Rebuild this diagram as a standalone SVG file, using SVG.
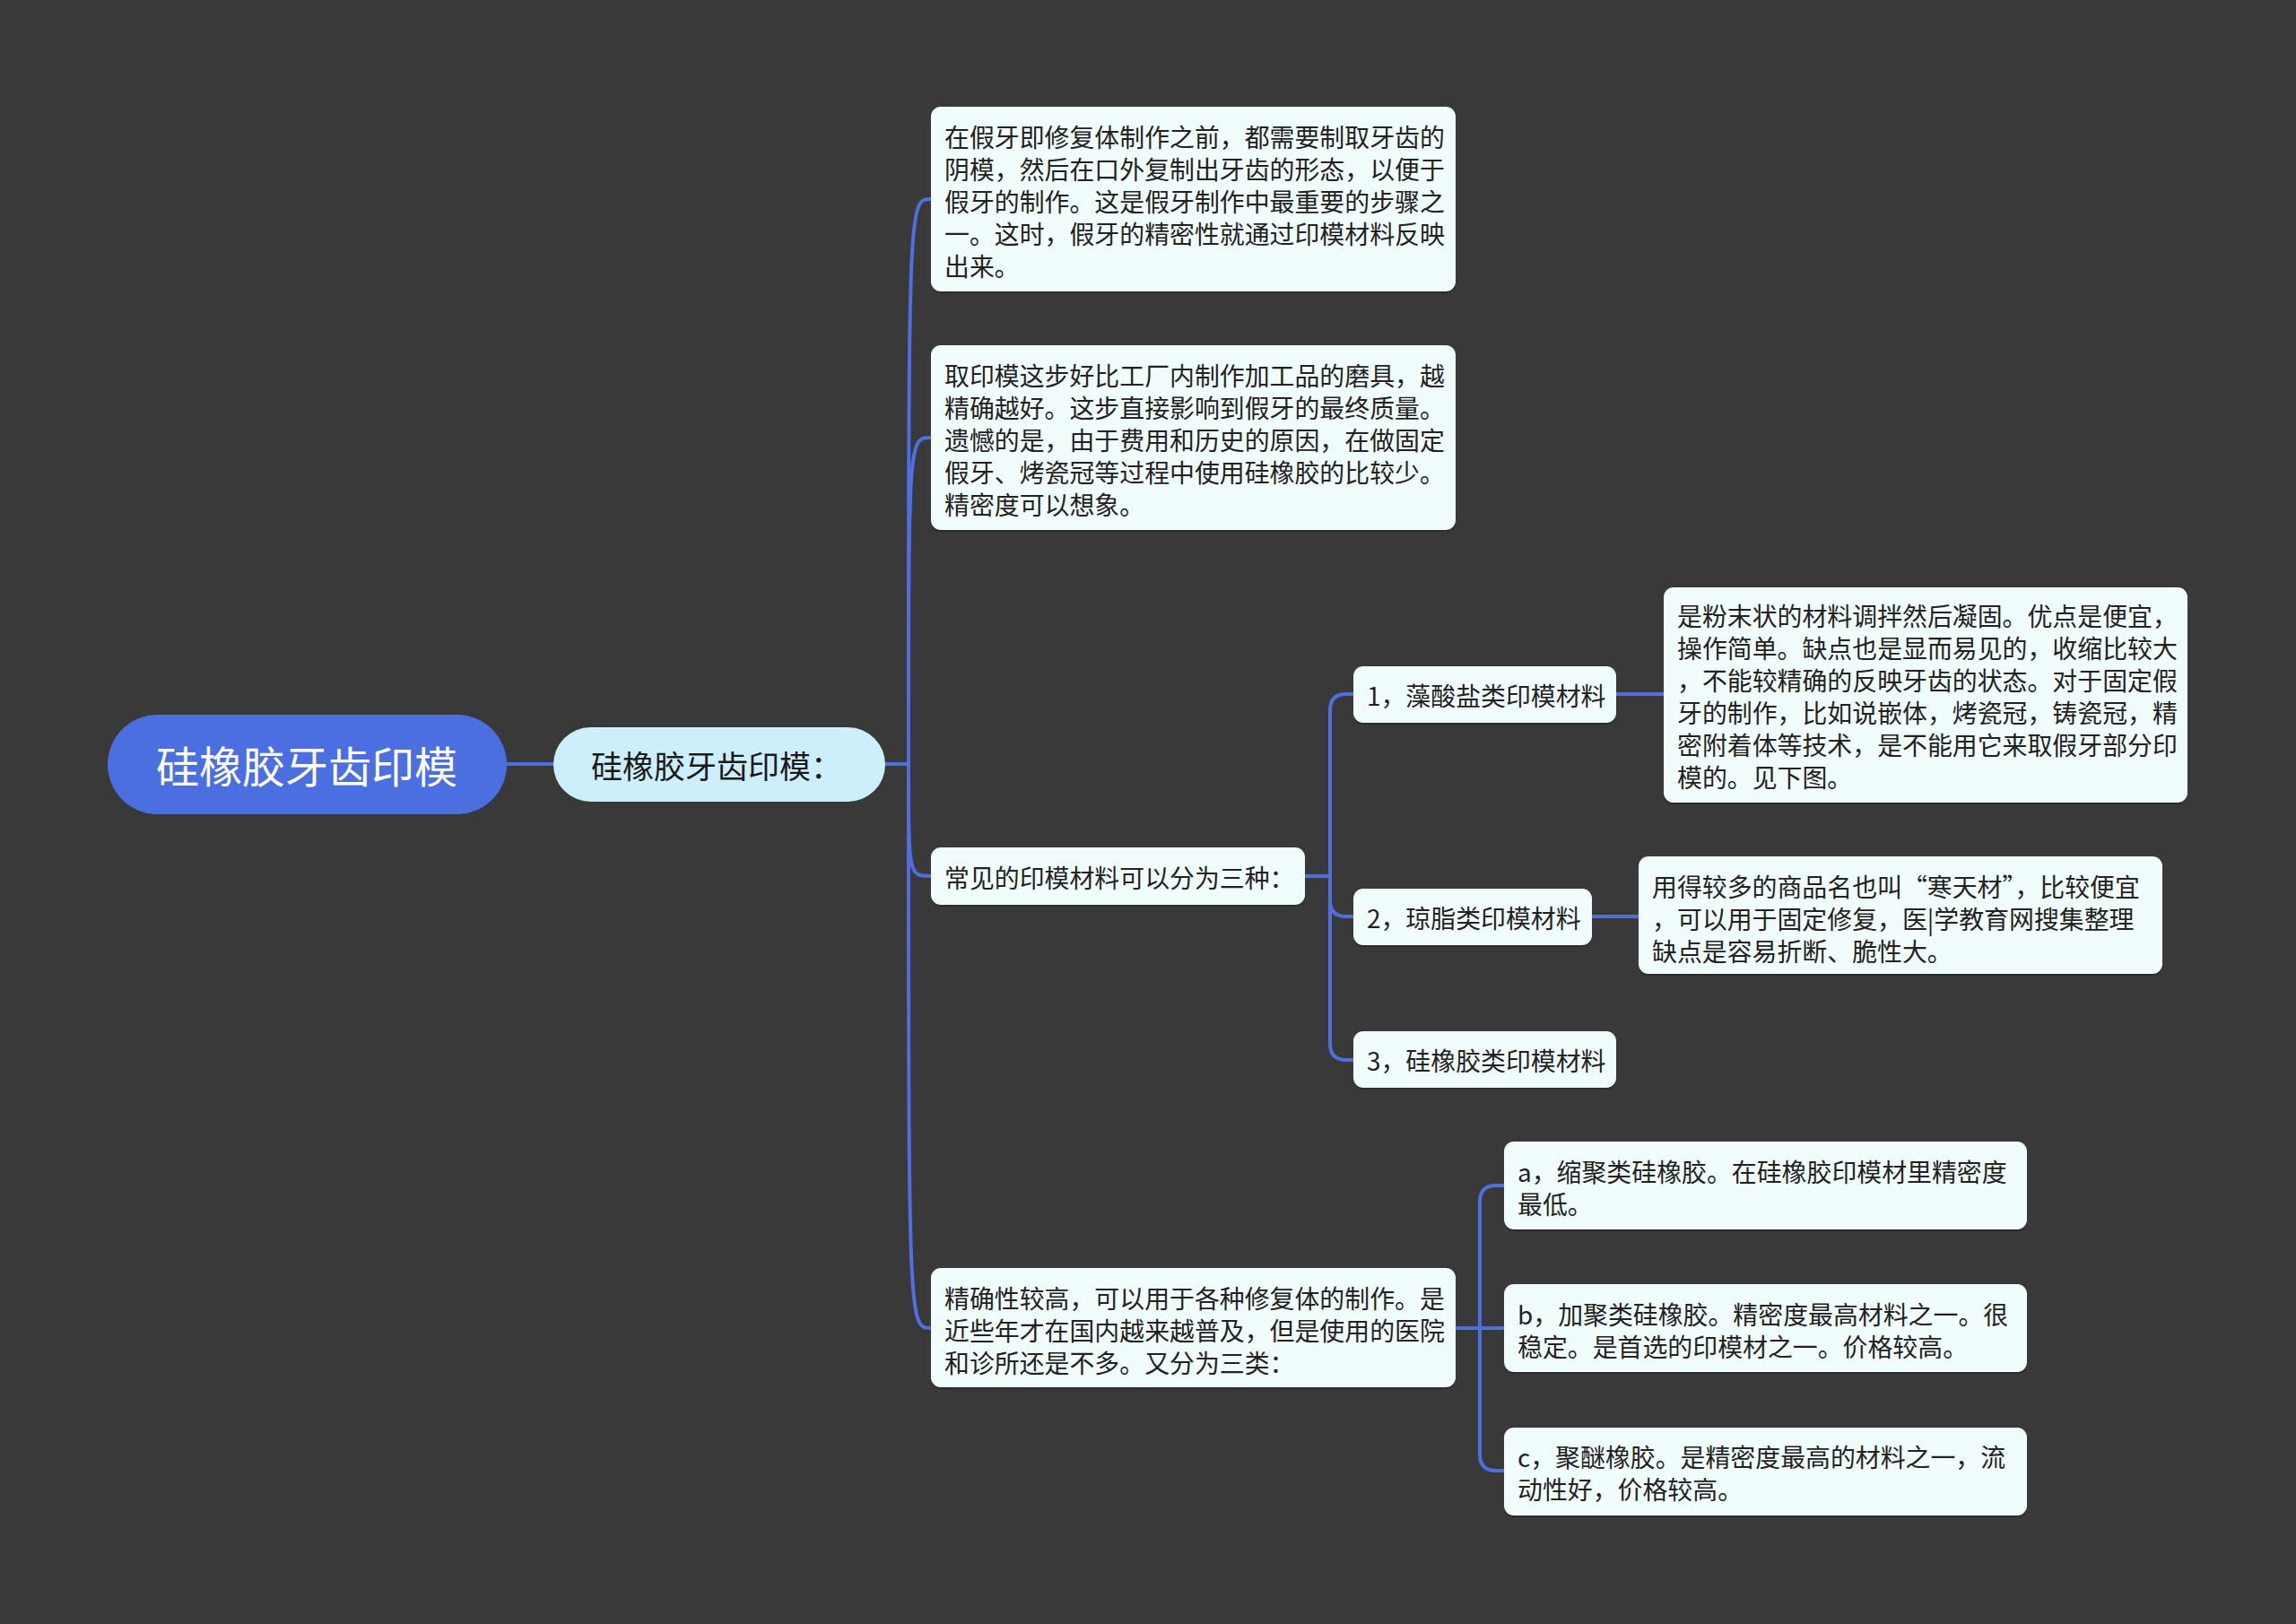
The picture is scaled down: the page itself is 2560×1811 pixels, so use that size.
<svg xmlns="http://www.w3.org/2000/svg" width="2560" height="1811" viewBox="0 0 2560 1811">
<defs>
<style>
.bg{fill:#3a393a}
.root{fill:#4b6ee0}
.sub{fill:#cdeefb}
.box{fill:#f1fcfc}
.sh{fill:#252525;opacity:0.6}
.t{font-family:"Noto Sans CJK SC","Microsoft YaHei",sans-serif;font-size:27.9px;fill:#222;dominant-baseline:central}
.rt{font-family:"Noto Sans CJK SC","Microsoft YaHei",sans-serif;font-size:48px;fill:#fff;dominant-baseline:central;text-anchor:middle}
.st{font-family:"Noto Sans CJK SC","Microsoft YaHei",sans-serif;font-size:35px;fill:#1a1a1a;dominant-baseline:central}
.c{fill:none;stroke:#4f6fe0;stroke-width:4;stroke-linecap:round}
</style>
</defs>
<rect class="bg" x="0" y="0" width="2560" height="1811"/>
<g id="connectors">
<path class="c" d="M565 852 H617" stroke-width="5"/>
<path class="c" d="M987 852 H1013"/>
<path class="c" d="M1013 852 C1013 222 1013 222 1038 222"/>
<path class="c" d="M1013 852 C1013 488 1013 488 1038 488"/>
<path class="c" d="M1013 852 C1013 977 1013 977 1038 977"/>
<path class="c" d="M1013 852 C1013 1481 1013 1481 1038 1481"/>
<path class="c" d="M1455 977 H1483"/>
<path class="c" d="M1483 977 V792 Q1483 774 1501 774 H1509"/>
<path class="c" d="M1483 977 V1004 Q1483 1022 1501 1022 H1509"/>
<path class="c" d="M1483 977 V1164 Q1483 1182 1501 1182 H1509"/>
<path class="c" d="M1802 774 H1855"/>
<path class="c" d="M1775 1022 H1827"/>
<path class="c" d="M1623 1481 H1677"/>
<path class="c" d="M1650 1481 V1340 Q1650 1322 1668 1322 H1677"/>
<path class="c" d="M1650 1481 V1622 Q1650 1640 1668 1640 H1677"/>
</g>
<g id="root">
<rect class="root" x="120" y="797" width="445" height="111" rx="55.5"/>
<text class="rt" x="342" y="852">硅橡胶牙齿印模</text>
</g>
<g id="sub1">
<rect class="sub" x="617" y="811" width="370" height="83" rx="41.5"/>
<text class="st" x="659" y="852">硅橡胶牙齿印模：</text>
</g>
<g id="n1">
<rect class="sh" x="1038" y="121" width="585" height="206" rx="11"/>
<rect class="box" x="1038" y="119" width="585" height="206" rx="11"/>
<text class="t" x="1053"><tspan x="1053" y="152">在假牙即修复体制作之前，都需要制取牙齿的</tspan><tspan x="1053" y="188">阴模，然后在口外复制出牙齿的形态，以便于</tspan><tspan x="1053" y="224">假牙的制作。这是假牙制作中最重要的步骤之</tspan><tspan x="1053" y="260">一。这时，假牙的精密性就通过印模材料反映</tspan><tspan x="1053" y="296">出来。</tspan></text>
</g>
<g id="n2">
<rect class="sh" x="1038" y="387" width="585" height="206" rx="11"/>
<rect class="box" x="1038" y="385" width="585" height="206" rx="11"/>
<text class="t"><tspan x="1053" y="418">取印模这步好比工厂内制作加工品的磨具，越</tspan><tspan x="1053" y="454">精确越好。这步直接影响到假牙的最终质量。</tspan><tspan x="1053" y="490">遗憾的是，由于费用和历史的原因，在做固定</tspan><tspan x="1053" y="526">假牙、烤瓷冠等过程中使用硅橡胶的比较少。</tspan><tspan x="1053" y="562">精密度可以想象。</tspan></text>
</g>
<g id="n3">
<rect class="sh" x="1038" y="947" width="417" height="64" rx="11"/>
<rect class="box" x="1038" y="945" width="417" height="64" rx="11"/>
<text class="t" x="1053" y="978">常见的印模材料可以分为三种：</text>
</g>
<g id="n3a">
<rect class="sh" x="1509" y="745" width="293" height="63" rx="11"/>
<rect class="box" x="1509" y="743" width="293" height="63" rx="11"/>
<text class="t" x="1524" y="775">1，藻酸盐类印模材料</text>
</g>
<g id="n3a1">
<rect class="sh" x="1855" y="657" width="584" height="240" rx="11"/>
<rect class="box" x="1855" y="655" width="584" height="240" rx="11"/>
<text class="t"><tspan x="1870" y="686">是粉末状的材料调拌然后凝固。优点是便宜，</tspan><tspan x="1870" y="722">操作简单。缺点也是显而易见的，收缩比较大</tspan><tspan x="1870" y="758">，不能较精确的反映牙齿的状态。对于固定假</tspan><tspan x="1870" y="794">牙的制作，比如说嵌体，烤瓷冠，铸瓷冠，精</tspan><tspan x="1870" y="830">密附着体等技术，是不能用它来取假牙部分印</tspan><tspan x="1870" y="866">模的。见下图。</tspan></text>
</g>
<g id="n3b">
<rect class="sh" x="1509" y="993" width="266" height="63" rx="11"/>
<rect class="box" x="1509" y="991" width="266" height="63" rx="11"/>
<text class="t" x="1524" y="1023">2，琼脂类印模材料</text>
</g>
<g id="n3b1">
<rect class="sh" x="1827" y="957" width="584" height="131" rx="11"/>
<rect class="box" x="1827" y="955" width="584" height="131" rx="11"/>
<text class="t"><tspan x="1842" y="988">用得较多的商品名也叫“寒天材”，比较便宜</tspan><tspan x="1842" y="1024">，可以用于固定修复，医|学教育网搜集整理</tspan><tspan x="1842" y="1060">缺点是容易折断、脆性大。</tspan></text>
</g>
<g id="n3c">
<rect class="sh" x="1509" y="1152" width="293" height="63" rx="11"/>
<rect class="box" x="1509" y="1150" width="293" height="63" rx="11"/>
<text class="t" x="1524" y="1182">3，硅橡胶类印模材料</text>
</g>
<g id="n4">
<rect class="sh" x="1038" y="1416" width="585" height="133" rx="11"/>
<rect class="box" x="1038" y="1414" width="585" height="133" rx="11"/>
<text class="t"><tspan x="1053" y="1447">精确性较高，可以用于各种修复体的制作。是</tspan><tspan x="1053" y="1483">近些年才在国内越来越普及，但是使用的医院</tspan><tspan x="1053" y="1519">和诊所还是不多。又分为三类：</tspan></text>
</g>
<g id="n4a">
<rect class="sh" x="1677" y="1275" width="583" height="98" rx="11"/>
<rect class="box" x="1677" y="1273" width="583" height="98" rx="11"/>
<text class="t"><tspan x="1692" y="1306">a，缩聚类硅橡胶。在硅橡胶印模材里精密度</tspan><tspan x="1692" y="1342">最低。</tspan></text>
</g>
<g id="n4b">
<rect class="sh" x="1677" y="1434" width="583" height="98" rx="11"/>
<rect class="box" x="1677" y="1432" width="583" height="98" rx="11"/>
<text class="t"><tspan x="1692" y="1465">b，加聚类硅橡胶。精密度最高材料之一。很</tspan><tspan x="1692" y="1501">稳定。是首选的印模材之一。价格较高。</tspan></text>
</g>
<g id="n4c">
<rect class="sh" x="1677" y="1594" width="583" height="98" rx="11"/>
<rect class="box" x="1677" y="1592" width="583" height="98" rx="11"/>
<text class="t"><tspan x="1692" y="1624">c，聚醚橡胶。是精密度最高的材料之一，流</tspan><tspan x="1692" y="1660">动性好，价格较高。</tspan></text>
</g>
</svg>
